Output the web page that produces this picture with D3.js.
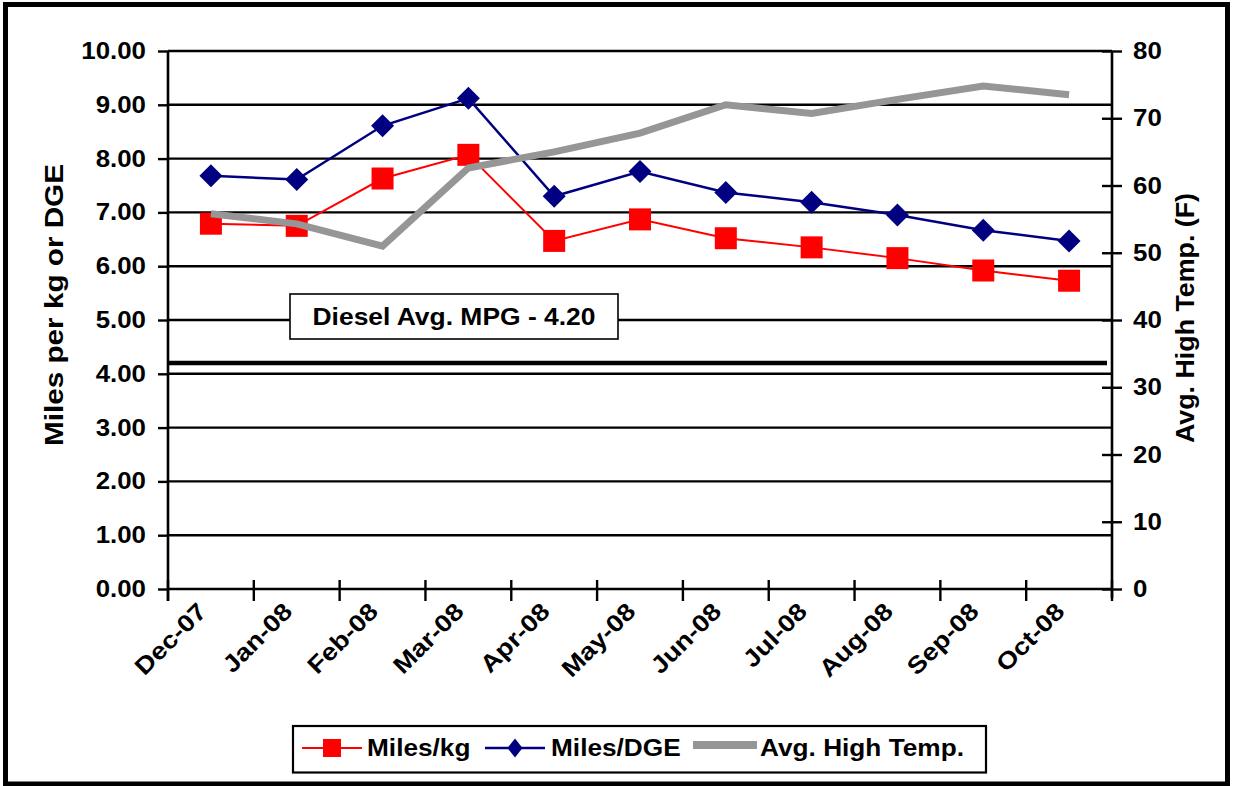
<!DOCTYPE html>
<html>
<head>
<meta charset="utf-8">
<script src="https://cdn.jsdelivr.net/npm/d3@7"></script>
<style>
  html, body { margin: 0; padding: 0; background: #fff; }
  svg { display: block; }
  text { font-family: "Liberation Sans", Arial, sans-serif; font-weight: bold; fill: #000; }
</style>
</head>
<body>
<svg id="chart" width="1233" height="786"></svg>
<script>
// ---------------- DATA ----------------
const categories = ["Dec-07","Jan-08","Feb-08","Mar-08","Apr-08","May-08","Jun-08","Jul-08","Aug-08","Sep-08","Oct-08"];
const milesPerKg  = [6.79, 6.75, 7.63, 8.07, 6.47, 6.87, 6.52, 6.35, 6.15, 5.92, 5.73];
const milesPerDGE = [7.68, 7.61, 8.61, 9.12, 7.30, 7.76, 7.37, 7.19, 6.95, 6.67, 6.47];
const avgHighTemp = [55.8, 54.3, 51.0, 62.6, 65.0, 67.8, 72.0, 70.7, 72.8, 74.8, 73.5];
const leftTicks  = [0,1,2,3,4,5,6,7,8,9,10];
const rightTicks = [0,10,20,30,40,50,60,70,80];
const dieselMPG = 4.20;
const dieselLabel = "Diesel Avg. MPG - 4.20";
const leftTitle = "Miles per kg or DGE";
const rightTitle = "Avg. High Temp. (F)";
const seriesNames = ["Miles/kg", "Miles/DGE", "Avg. High Temp."];

// ---------------- SETUP ----------------
const svg = d3.select("#chart");
const FONT = '"Liberation Sans", Arial, sans-serif';

function stretch(sel, f) {
  sel.each(function () {
    const L = this.getComputedTextLength();
    d3.select(this).attr("textLength", L * f).attr("lengthAdjust", "spacingAndGlyphs");
  });
}
function fitLength(sel, target) {
  sel.attr("textLength", target).attr("lengthAdjust", "spacingAndGlyphs");
}

svg.append("rect").attr("width", 1233).attr("height", 786).attr("fill", "#fff");

const plotL = 168, plotR = 1112, plotT = 51, plotB = 589;

const x = d3.scaleBand().domain(categories).range([plotL, plotR]).paddingInner(0).paddingOuter(0);
const yL = d3.scaleLinear().domain([0, 10]).range([plotB, plotT]);
const yR = d3.scaleLinear().domain([0, 80]).range([plotB, plotT]);
const cx = d => x(d) + x.bandwidth() / 2;

// gridlines
svg.append("g").selectAll("line").data(leftTicks.filter(d => d > 0)).join("line")
  .attr("x1", plotL).attr("x2", plotR)
  .attr("y1", d => yL(d)).attr("y2", d => yL(d))
  .attr("stroke", "#000").attr("stroke-width", 2.4);

// left axis
const gL = svg.append("g").attr("transform", `translate(${plotL},0)`)
  .call(d3.axisLeft(yL).tickValues(leftTicks).tickFormat(d3.format(".2f")).tickSize(10).tickPadding(12));
gL.select(".domain").remove();
gL.selectAll(".tick line").attr("stroke", "#000").attr("stroke-width", 2.4);
gL.selectAll(".tick text").style("font-family", FONT).style("font-weight", "bold")
  .attr("font-size", 23.5).attr("fill", "#000").call(stretch, 1.1);
svg.append("line").attr("x1", plotL).attr("x2", plotL).attr("y1", plotT).attr("y2", plotB + 12)
  .attr("stroke", "#000").attr("stroke-width", 2.6);

// right axis
const gR = svg.append("g").attr("transform", `translate(${plotR},0)`)
  .call(d3.axisRight(yR).tickValues(rightTicks).tickSize(10).tickPadding(11));
gR.select(".domain").remove();
gR.selectAll(".tick line").attr("x1", -10).attr("stroke", "#000").attr("stroke-width", 2.4);
gR.selectAll(".tick text").style("font-family", FONT).style("font-weight", "bold")
  .attr("font-size", 23.5).attr("fill", "#000").call(stretch, 1.1);
svg.append("line").attr("x1", plotR).attr("x2", plotR).attr("y1", plotT).attr("y2", plotB + 9)
  .attr("stroke", "#000").attr("stroke-width", 2.6);

// x axis
svg.append("line").attr("x1", plotL).attr("x2", plotR).attr("y1", plotB).attr("y2", plotB)
  .attr("stroke", "#000").attr("stroke-width", 2.6);
const boundaries = categories.map(c => x(c)).concat([plotR]);
svg.append("g").selectAll("line").data(boundaries).join("line")
  .attr("x1", d => d).attr("x2", d => d).attr("y1", plotB - 9).attr("y2", plotB + 12)
  .attr("stroke", "#000").attr("stroke-width", 2.4);
svg.append("g").selectAll("text").data(categories).join("text")
  .attr("transform", d => `translate(${cx(d) - 3},${plotB + 24}) rotate(-45)`)
  .attr("text-anchor", "end").attr("font-size", 24)
  .text(d => d).call(stretch, 1.14);

// diesel reference line
svg.append("line").attr("x1", plotL - 1).attr("x2", plotR - 5)
  .attr("y1", yL(dieselMPG)).attr("y2", yL(dieselMPG))
  .attr("stroke", "#000").attr("stroke-width", 4.4);

// diesel label box
svg.append("rect").attr("x", 290).attr("y", 294).attr("width", 328).attr("height", 45)
  .attr("fill", "#fff").attr("stroke", "#000").attr("stroke-width", 1.6);
svg.append("text").attr("x", 454).attr("y", 324.5).attr("text-anchor", "middle")
  .attr("font-size", 24.5).text(dieselLabel).call(fitLength, 283);

// series lines
const line = (yScale) => d3.line().x((d, i) => cx(categories[i])).y(d => yScale(d));

svg.append("path").datum(milesPerKg).attr("d", line(yL))
  .attr("fill", "none").attr("stroke", "#ff0000").attr("stroke-width", 2);
svg.append("g").selectAll("rect").data(milesPerKg).join("rect")
  .attr("x", (d, i) => cx(categories[i]) - 11).attr("y", d => yL(d) - 11)
  .attr("width", 22).attr("height", 22).attr("fill", "#ff0000");

svg.append("path").datum(milesPerDGE).attr("d", line(yL))
  .attr("fill", "none").attr("stroke", "#000080").attr("stroke-width", 2.5);
const diamond = (s) => `M0,${-s} L${s},0 L0,${s} L${-s},0 Z`;
svg.append("g").selectAll("path").data(milesPerDGE).join("path")
  .attr("transform", (d, i) => `translate(${cx(categories[i])},${yL(d)})`)
  .attr("d", diamond(11.5)).attr("fill", "#000080");

svg.append("path").datum(avgHighTemp).attr("d", line(yR))
  .attr("fill", "none").attr("stroke", "#969696").attr("stroke-width", 7).attr("stroke-linejoin", "miter");

// axis titles
svg.append("text").attr("transform", `translate(62.5,305) rotate(-90)`)
  .attr("text-anchor", "middle").attr("font-size", 25.5).text(leftTitle).call(fitLength, 282);
svg.append("text").attr("transform", `translate(1193.5,318) rotate(-90)`)
  .attr("text-anchor", "middle").attr("font-size", 25.5).text(rightTitle).call(fitLength, 250);

// legend
const lg = svg.append("g");
lg.append("rect").attr("x", 293).attr("y", 726).attr("width", 693).attr("height", 46.5)
  .attr("fill", "#fff").attr("stroke", "#000").attr("stroke-width", 2.2);
const legY = 748;
// item 1
lg.append("line").attr("x1", 302).attr("x2", 362).attr("y1", legY).attr("y2", legY)
  .attr("stroke", "#ff0000").attr("stroke-width", 2);
lg.append("rect").attr("x", 323).attr("y", legY - 9).attr("width", 18).attr("height", 18).attr("fill", "#ff0000");
lg.append("text").attr("x", 367).attr("y", 756).attr("font-size", 23).text(seriesNames[0]).call(stretch, 1.14);
// item 2
lg.append("line").attr("x1", 485).attr("x2", 545).attr("y1", legY).attr("y2", legY)
  .attr("stroke", "#000080").attr("stroke-width", 2.5);
lg.append("path").attr("transform", `translate(515,${legY})`).attr("d", "M0,-9.5 L7.5,0 L0,9.5 L-7.5,0 Z").attr("fill", "#000080");
lg.append("text").attr("x", 551).attr("y", 756).attr("font-size", 23).text(seriesNames[1]).call(stretch, 1.14);
// item 3
lg.append("line").attr("x1", 693).attr("x2", 757).attr("y1", 745).attr("y2", 745)
  .attr("stroke", "#969696").attr("stroke-width", 8);
lg.append("text").attr("x", 760).attr("y", 756).attr("font-size", 23).text(seriesNames[2]).call(stretch, 1.14);

// outer frame
svg.append("rect").attr("x", 5.5).attr("y", 4.5).attr("width", 1222).attr("height", 779.5)
  .attr("fill", "none").attr("stroke", "#000").attr("stroke-width", 5);
</script>
</body>
</html>
